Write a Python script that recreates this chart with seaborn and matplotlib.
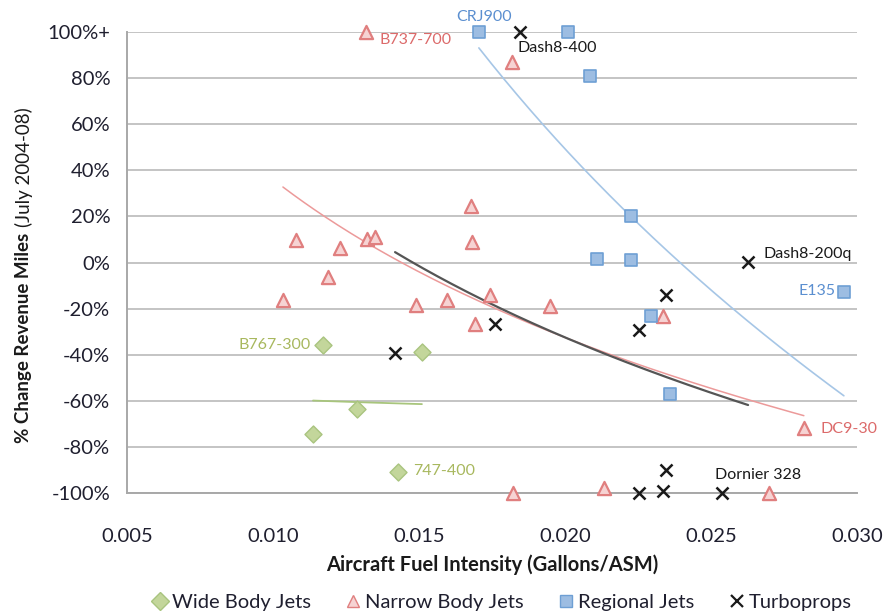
import numpy as np
import pandas as pd
import matplotlib
matplotlib.use("Agg")
import matplotlib.pyplot as plt
import seaborn as sns
from matplotlib.lines import Line2D

# ---------------- data ----------------
wide_x = [0.01171, 0.01510, 0.01288, 0.01137, 0.01429]
wide_y = [-35.7, -38.7, -63.5, -74.3, -90.9]

narrow_x = [0.01318, 0.01818, 0.01079, 0.01229, 0.01188, 0.01322, 0.01349,
            0.01678, 0.01682, 0.01034, 0.01490, 0.01596, 0.01743, 0.01692,
            0.01949, 0.02336, 0.02818, 0.01822, 0.02134, 0.02699]
narrow_y = [100, 87.0, 9.6, 6.5, -6.5, 10.4, 10.9,
            24.3, 8.7, -16.1, -18.3, -16.1, -13.9, -26.5,
            -18.7, -23.0, -71.7, -100, -97.8, -100]

regional_x = [0.01705, 0.02010, 0.02086, 0.02226, 0.02110, 0.02226, 0.02295,
              0.02360, 0.02955]
regional_y = [100, 100, 80.9, 20.0, 1.7, 0.9, -23.0, -57.0, -12.6]

turbo_x = [0.01846, 0.02627, 0.02346, 0.02253, 0.01760, 0.01418, 0.02346,
           0.02253, 0.02336, 0.02538]
turbo_y = [100, 0.4, -13.9, -29.1, -26.5, -39.1, -90.0, -100, -99.0, -100]

series_names = ["Wide Body Jets", "Narrow Body Jets", "Regional Jets", "Turboprops"]

x_ticks = [0.005, 0.010, 0.015, 0.020, 0.025, 0.030]
x_tick_labels = ["0.005", "0.010", "0.015", "0.020", "0.025", "0.030"]
y_ticks = [-100, -80, -60, -40, -20, 0, 20, 40, 60, 80, 100]
y_tick_labels = ["-100%", "-80%", "-60%", "-40%", "-20%", "0%", "20%", "40%",
                 "60%", "80%", "100%+"]

# point labels: (text, series, index in series)
point_labels = [
    ("CRJ900", "Regional Jets", 0),
    ("B737-700", "Narrow Body Jets", 0),
    ("Dash8-400", "Turboprops", 0),
    ("Dash8-200q", "Turboprops", 1),
    ("E135", "Regional Jets", 8),
    ("B767-300", "Wide Body Jets", 0),
    ("747-400", "Wide Body Jets", 4),
    ("DC9-30", "Narrow Body Jets", 16),
    ("Dornier 328", "Turboprops", 9),
]

# ---------------- style ----------------
sns.set_theme(style="white")
plt.rcParams["font.family"] = ["Lato", "DejaVu Sans"]

xs = {"Wide Body Jets": wide_x, "Narrow Body Jets": narrow_x,
      "Regional Jets": regional_x, "Turboprops": turbo_x}
ys = {"Wide Body Jets": wide_y, "Narrow Body Jets": narrow_y,
      "Regional Jets": regional_y, "Turboprops": turbo_y}

marker_style = {
    "Wide Body Jets": dict(marker="D", s=75, color="#c3d69b", edgecolor="#a9c47f", linewidth=1.0),
    "Narrow Body Jets": dict(marker="^", s=90, color="#f6d3d3", edgecolor="#e07f7f", linewidth=1.6),
    "Regional Jets": dict(marker="s", s=75, color="#9dbde2", edgecolor="#6e9fd4", linewidth=1.2),
    "Turboprops": dict(marker="x", s=75, color="#1a1a1a", linewidth=1.8),
}
trend_style = {
    "Wide Body Jets": dict(color="#a8c57c", lw=1.3),
    "Narrow Body Jets": dict(color="#ec9a9a", lw=1.1),
    "Regional Jets": dict(color="#a6c6e6", lw=1.2),
    "Turboprops": dict(color="#555555", lw=1.6),
}
label_color = {
    "Wide Body Jets": "#a8b85e",
    "Narrow Body Jets": "#dc6a6a",
    "Regional Jets": "#5b8fd0",
    "Turboprops": "#1a1a1a",
}
label_offset = {
    "CRJ900": (5, 15, "center"),
    "B737-700": (14, -8, "left"),
    "Dash8-400": (-3, -16, "left"),
    "Dash8-200q": (15, 8, "left"),
    "E135": (-8, 1, "right"),
    "B767-300": (-12, 0, "right"),
    "747-400": (15, 1, "left"),
    "DC9-30": (17, -1, "left"),
    "Dornier 328": (-7, 18, "left"),
}

fig = plt.figure(figsize=(8.85, 6.14), dpi=100)
ax = fig.add_axes([127 / 885, 1 - 493 / 614, 730 / 885, 461 / 614])

# gridlines
ax.set_axisbelow(True)
ax.yaxis.grid(True, color="#c4c4c4", lw=1.4)
ax.xaxis.grid(False)

# trendlines (Excel-style logarithmic fit over each series' x range)
for name in ["Wide Body Jets", "Regional Jets", "Narrow Body Jets", "Turboprops"]:
    x = np.array(xs[name]); y = np.array(ys[name])
    b, a = np.polyfit(np.log(x), y, 1)
    xx = np.linspace(x.min(), x.max(), 200)
    ax.plot(xx, a + b * np.log(xx), zorder=2, **trend_style[name])

# scatter points
for name in series_names:
    df = pd.DataFrame({"x": xs[name], "y": ys[name]})
    sns.scatterplot(data=df, x="x", y="y", ax=ax, label=name, clip_on=False,
                    zorder=3, legend=False, **marker_style[name])

# point labels
for text, name, idx in point_labels:
    dx, dy, ha = label_offset[text]
    ax.annotate(text, (xs[name][idx], ys[name][idx]), xytext=(dx, dy),
                textcoords="offset pixels", ha=ha, va="center",
                fontsize=11.5, color=label_color[name], zorder=4)

ax.set_xlim(0.005, 0.030)
ax.set_ylim(-100, 100)
ax.set_xticks(x_ticks)
ax.set_xticklabels(x_tick_labels)
ax.set_yticks(y_ticks)
ax.set_yticklabels(y_tick_labels)
ax.tick_params(axis="both", labelsize=14.5, colors="#1f1f2f")
ax.tick_params(axis="y", direction="out", length=7, width=1.2, color="#a8a8a8", pad=5)
ax.tick_params(axis="x", direction="out", length=5, width=1.2, color="#a8a8a8", pad=20)

for s in ["top", "right"]:
    ax.spines[s].set_visible(False)
for s in ["left", "bottom"]:
    ax.spines[s].set_color("#a8a8a8")
    ax.spines[s].set_linewidth(1.4)

ax.set_xlabel("")
ax.set_ylabel("")
fig.text(492 / 885, 1 - 565 / 614, "Aircraft Fuel Intensity (Gallons/ASM)",
         ha="center", va="center", fontsize=14.5, fontweight="bold", color="#1a1a1a")

# y label: bold + regular parts
t1 = fig.text(24 / 885, 1 - 443 / 614, "% Change Revenue Miles", rotation=90,
              ha="center", va="bottom", fontsize=13.5, fontweight="bold", color="#1a1a1a")
fig.canvas.draw()
bb = t1.get_window_extent()
fig.text(24 / 885, (bb.y1 + 6) / fig.bbox.height, "(July 2004-08)", rotation=90,
         ha="center", va="bottom", fontsize=13.5, color="#1a1a1a")

# legend
handles = []
for name in series_names:
    st = marker_style[name]
    if st["marker"] == "x":
        h = Line2D([], [], ls="none", marker="x", color=st["color"], markersize=9,
                   markeredgewidth=1.6)
    else:
        h = Line2D([], [], ls="none", marker=st["marker"], markerfacecolor=st["color"],
                   markeredgecolor=st["edgecolor"], markersize=9, markeredgewidth=1.0)
    handles.append(h)
fig.legend(handles, series_names, loc="center", bbox_to_anchor=(501 / 885, 1 - 602 / 614),
           ncol=4, frameon=False, fontsize=14.5, handletextpad=0.1, columnspacing=1.6,
           handlelength=1.0, labelcolor="#1f1f2f")

fig.savefig("out.png", dpi=100)
